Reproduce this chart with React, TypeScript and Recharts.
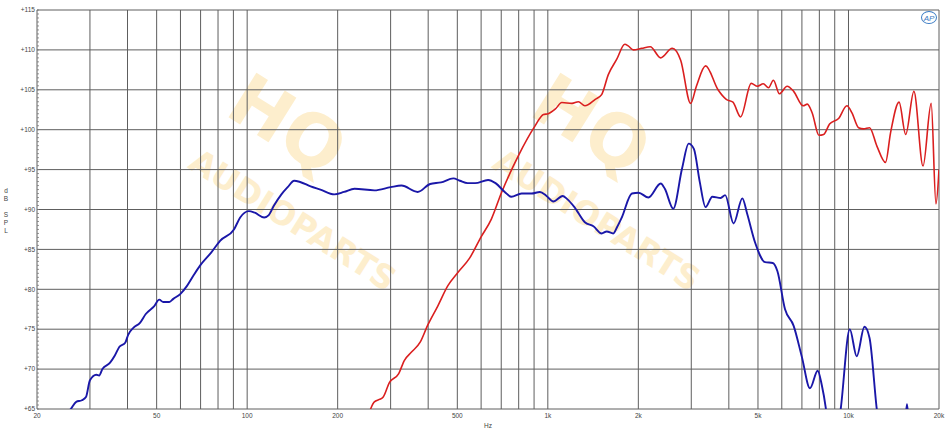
import React from 'react'
import { LineChart, Line, XAxis, YAxis, CartesianGrid } from 'recharts'

// woofer (blue) response, Hz / dB SPL
const wooferFreq = [
  24, 25.9, 27, 28.2, 29.1, 30, 31.5, 32.2, 33, 35, 36.3, 37.6, 39.3, 40.2, 41.9, 44, 46, 49.1, 51, 52.6,
  55.1, 56.8, 59.9, 63, 66.2, 69.8, 75.9, 81.4, 90.4, 94.8, 101.3, 106, 113.9, 118, 122.8, 130, 136.4, 143.3,
  150, 162.6, 175.3, 194.9, 210, 227.6, 264.9, 300, 326, 369, 406, 441.5, 485, 510, 541, 573, 633, 670, 719,
  756, 818, 883, 941, 990, 1043, 1120, 1160, 1226, 1328, 1418, 1510, 1570, 1651, 1700, 1762, 1904, 2004, 2161,
  2374, 2450, 2613, 2794, 2941, 3060, 3200, 3347, 3525, 3759, 3889, 4148, 4436, 4600, 4887, 5280, 5599, 5800,
  6151, 6566, 7000, 7445, 7900, 8150, 8398, 8600, 9200, 9436, 10100, 10650, 11300, 11750, 12400, 12700, 15300,
  15650, 16000, 20000,
]
const wooferSpl = [
  63.8, 65, 65.9, 66.1, 66.5, 68.6, 69.3, 69.2, 70, 70.8, 71.7, 72.8, 73.3, 74.3, 75.2, 75.8, 76.9, 77.9, 78.7, 78.4,
  78.4, 78.8, 79.4, 80.4, 81.7, 83, 84.6, 86.1, 87.5, 89, 89.8, 89.6, 89, 89.3, 90.5, 91.9, 92.8, 93.6,
  93.45, 92.9, 92.5, 91.9, 92.2, 92.6, 92.4, 92.8, 93, 92.2, 93.2, 93.4, 93.9, 93.6, 93.3, 93.3, 93.7, 93.3, 92.2,
  91.6, 92, 92, 92.2, 91.7, 91, 91.7, 91.3, 90.3, 88.4, 87.9, 87, 87.25, 87, 87.8, 89, 92, 92.1, 91.5,
  93.25, 92.6, 90.1, 95.1, 98.25, 97.6, 93.5, 90.3, 91.6, 91.45, 91.8, 88.25, 91.4, 89.5, 85.9, 83.4, 83.3, 82.3,
  77.5, 75.45, 71.5, 67.6, 69.8, 68, 65.2, 62, 62, 65.2, 75, 71.6, 75.3, 73.9, 65.2, 62, 62,
  65.6, 62, 60,
]

// tweeter (red) response, Hz / dB SPL
const tweeterFreq = [
  250, 258, 264.9, 275.3, 283.5, 297.2, 318.8, 333.5, 351.4, 376.7, 398.6, 430.5, 465.2, 502.1, 549.3, 600.6,
  649, 701, 797, 906, 967, 1003, 1060, 1113, 1203, 1264, 1328, 1438, 1510, 1589, 1694, 1804, 1850, 1926, 2054,
  2191, 2374, 2593, 2766, 2985, 3120, 3347, 3682, 3921, 4128, 4377, 4748, 4980, 5207, 5420, 5627, 5892, 6252,
  6570, 7067, 7296, 7574, 7972, 8266, 8652, 9270, 9880, 10270, 10800, 11230, 11750, 12430, 13280, 13800, 14730,
  15500, 16500, 17700, 18840, 19540, 20000,
]
const tweeterSpl = [
  63.5, 65.1, 65.9, 66.2, 66.5, 68.3, 69.4, 71.1, 72.1, 73.4, 75.5, 77.9, 80.45, 82.1, 83.9, 86.6,
  88.8, 92.1, 96.7, 100.45, 101.9, 102, 102.6, 103.4, 103.3, 103.5, 103, 103.8, 104.4, 106.9, 108.8, 110.7, 110.5, 110, 110.2,
  110.4, 109, 110.2, 108.7, 103.3, 105.45, 108, 105, 103.8, 103.45, 101.6, 105.8, 105.45, 105.75, 105.25, 106.2, 104.5, 105.45,
  104.8, 103, 103.2, 102.1, 99.3, 99.4, 100.7, 101.4, 103, 102.1, 100.25, 100.1, 100.25, 97.95, 95.9, 99.6, 103.45,
  99.4, 104.8, 95.45, 103.3, 90.7, 95,
]

const freqTicks = [
  20, 30, 40, 50, 60, 70, 80, 90, 100, 200, 300, 400, 500, 600, 700, 800, 900,
  1000, 2000, 3000, 4000, 5000, 6000, 7000, 8000, 9000, 10000, 20000,
]
const freqLabels: Record<number, string> = {
  20: '20', 50: '50', 100: '100', 200: '200', 500: '500',
  1000: '1k', 2000: '2k', 5000: '5k', 10000: '10k', 20000: '20k',
}
const splGrid = [65, 70, 75, 80, 85, 90, 95, 100, 105, 110, 115]
const splMinor = Array.from({ length: 101 }, (_, i) => 65 + i * 0.5)

const woofer = wooferFreq.map((f, i) => ({ f, spl: wooferSpl[i] }))
const tweeter = tweeterFreq.map((f, i) => ({ f, spl: tweeterSpl[i] }))

const FONT = '"Liberation Sans", Arial, sans-serif'
const GRID = '#5e5e5e'

function YTick({ x, y, payload }: any) {
  const v = payload.value
  const major = Math.abs(v % 5) < 0.01
  return (
    <g>
      <line x1={x + 2} x2={x + 4} y1={y} y2={y} stroke="#777" strokeWidth={0.8} />
      {major && (
        <text x={x} y={y} dy="0.35em" textAnchor="end" fontSize={6.5} fill="#444" fontFamily={FONT}>
          {'+' + v}
        </text>
      )}
    </g>
  )
}

function XTick({ x, y, payload }: any) {
  const label = freqLabels[payload.value]
  if (!label) return null
  return (
    <text x={x} y={y} dy="0.71em" textAnchor="middle" fontSize={6.5} fill="#444" fontFamily={FONT}>
      {label}
    </text>
  )
}

function SplLabel() {
  const letters = ['d', 'B', '', 'S', 'P', 'L']
  return (
    <text fontSize={6.5} fill="#444" fontFamily={FONT} textAnchor="middle">
      {letters.map((l, i) => (
        <tspan key={i} x={6} y={193 + i * 8}>{l}</tspan>
      ))}
    </text>
  )
}

function HzLabel({ viewBox }: any) {
  return (
    <text x={viewBox.x + viewBox.width / 2} y={viewBox.y + 19} textAnchor="middle" fontSize={6.5} fill="#444" fontFamily={FONT}>
      Hz
    </text>
  )
}

// faint watermark logos (only the ones that sit fully inside the picture)
const marks = [[293, 220], [597, 220]]

function Watermark() {
  return (
    <div style={{ position: 'absolute', left: 0, top: 0, width: 950, height: 442, overflow: 'hidden' }}>
      {marks.map(([cx, cy], i) => (
        <div key={i} style={{ position: 'absolute', left: cx, top: cy, width: 0, height: 0, transform: 'rotate(32deg)' }}>
          <div style={{
            position: 'absolute', left: -55, top: -78, transform: 'translate(-50%, -50%)',
            fontFamily: '"DejaVu Sans", sans-serif', fontWeight: 'bold', fontSize: 72, color: '#fdeecd', whiteSpace: 'nowrap',
          }}>HQ</div>
          <div style={{
            position: 'absolute', left: 0, top: 0, transform: 'translate(-50%, -50%)',
            fontFamily: '"DejaVu Sans", sans-serif', fontWeight: 'bold', fontSize: 33, color: '#fdeecd', whiteSpace: 'nowrap',
          }}>AUDIOPARTS</div>
        </div>
      ))}
    </div>
  )
}

export default function App() {
  return (
    <div style={{ position: 'absolute', left: 0, top: 0, width: 950, height: 442, background: '#fff' }}>
      <Watermark />
      <div style={{ position: 'absolute', left: 0, top: 0 }}>
        <LineChart width={950} height={442} margin={{ top: 10, right: 11, bottom: 0, left: 0 }}>
          <CartesianGrid stroke={GRID} strokeWidth={1} horizontalValues={splGrid} verticalValues={freqTicks} />
          <XAxis
            type="number"
            dataKey="f"
            scale="log"
            domain={[20, 20000]}
            ticks={freqTicks}
            allowDataOverflow
            axisLine={false}
            tickSize={0}
            tickMargin={4}
            height={33}
            interval={0}
            tick={<XTick />}
            label={<HzLabel />}
          />
          <YAxis
            type="number"
            domain={[65, 115]}
            ticks={splMinor}
            allowDataOverflow
            axisLine={false}
            tickSize={0}
            tickMargin={2}
            width={37}
            interval={0}
            tick={<YTick />}
            label={<SplLabel />}
          />
          <Line data={tweeter} dataKey="spl" type="monotone" stroke="#da1f1f" strokeWidth={1.6} dot={false} isAnimationActive={false} />
          <Line data={woofer} dataKey="spl" type="monotone" stroke="#1a17a8" strokeWidth={1.9} dot={false} isAnimationActive={false} />
        </LineChart>
      </div>
      <div style={{
        position: 'absolute', left: 921, top: 11, width: 16, height: 13, borderRadius: '50%', border: '1px solid #3b7cc4',
        color: '#3b7cc4', fontFamily: FONT, fontStyle: 'italic', fontSize: 8, lineHeight: '13px', textAlign: 'center', boxSizing: 'border-box',
      }}>AP</div>
    </div>
  )
}
